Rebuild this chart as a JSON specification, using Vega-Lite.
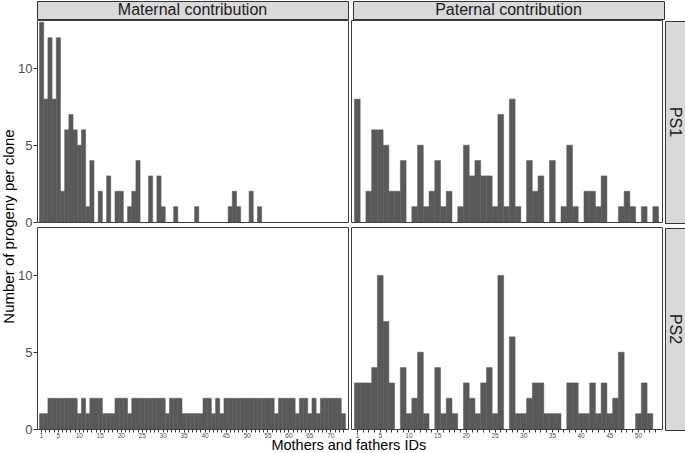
{
  "$schema": "https://vega.github.io/schema/vega-lite/v6.json",
  "padding": {"left": 2, "top": 0, "right": 0, "bottom": 0},
  "config": {
    "font": "Liberation Sans",
    "view": {"stroke": null},
    "bar": {"color": "#595959"}
  },
  "datasets": {
    "bars": [
      {"parent":"Maternal","site":"PS1","id":1,"n":13},{"parent":"Maternal","site":"PS1","id":2,"n":8},{"parent":"Maternal","site":"PS1","id":3,"n":12},{"parent":"Maternal","site":"PS1","id":4,"n":8},{"parent":"Maternal","site":"PS1","id":5,"n":12},{"parent":"Maternal","site":"PS1","id":6,"n":2},{"parent":"Maternal","site":"PS1","id":7,"n":6},{"parent":"Maternal","site":"PS1","id":8,"n":7},{"parent":"Maternal","site":"PS1","id":9,"n":6},{"parent":"Maternal","site":"PS1","id":10,"n":5},{"parent":"Maternal","site":"PS1","id":11,"n":6},{"parent":"Maternal","site":"PS1","id":12,"n":1},{"parent":"Maternal","site":"PS1","id":13,"n":4},{"parent":"Maternal","site":"PS1","id":15,"n":2},{"parent":"Maternal","site":"PS1","id":17,"n":3},{"parent":"Maternal","site":"PS1","id":19,"n":2},{"parent":"Maternal","site":"PS1","id":20,"n":2},{"parent":"Maternal","site":"PS1","id":22,"n":1},{"parent":"Maternal","site":"PS1","id":23,"n":2},{"parent":"Maternal","site":"PS1","id":24,"n":4},{"parent":"Maternal","site":"PS1","id":27,"n":3},{"parent":"Maternal","site":"PS1","id":29,"n":3},{"parent":"Maternal","site":"PS1","id":30,"n":1},{"parent":"Maternal","site":"PS1","id":33,"n":1},{"parent":"Maternal","site":"PS1","id":38,"n":1},{"parent":"Maternal","site":"PS1","id":46,"n":1},{"parent":"Maternal","site":"PS1","id":47,"n":2},{"parent":"Maternal","site":"PS1","id":48,"n":1},{"parent":"Maternal","site":"PS1","id":51,"n":2},{"parent":"Maternal","site":"PS1","id":53,"n":1},
      {"parent":"Maternal","site":"PS2","id":1,"n":1},{"parent":"Maternal","site":"PS2","id":2,"n":1},{"parent":"Maternal","site":"PS2","id":3,"n":2},{"parent":"Maternal","site":"PS2","id":4,"n":2},{"parent":"Maternal","site":"PS2","id":5,"n":2},{"parent":"Maternal","site":"PS2","id":6,"n":2},{"parent":"Maternal","site":"PS2","id":7,"n":2},{"parent":"Maternal","site":"PS2","id":8,"n":2},{"parent":"Maternal","site":"PS2","id":9,"n":2},{"parent":"Maternal","site":"PS2","id":10,"n":1},{"parent":"Maternal","site":"PS2","id":11,"n":2},{"parent":"Maternal","site":"PS2","id":12,"n":1},{"parent":"Maternal","site":"PS2","id":13,"n":2},{"parent":"Maternal","site":"PS2","id":14,"n":2},{"parent":"Maternal","site":"PS2","id":15,"n":2},{"parent":"Maternal","site":"PS2","id":16,"n":1},{"parent":"Maternal","site":"PS2","id":17,"n":1},{"parent":"Maternal","site":"PS2","id":18,"n":1},{"parent":"Maternal","site":"PS2","id":19,"n":2},{"parent":"Maternal","site":"PS2","id":20,"n":2},{"parent":"Maternal","site":"PS2","id":21,"n":2},{"parent":"Maternal","site":"PS2","id":22,"n":1},{"parent":"Maternal","site":"PS2","id":23,"n":2},{"parent":"Maternal","site":"PS2","id":24,"n":2},{"parent":"Maternal","site":"PS2","id":25,"n":2},{"parent":"Maternal","site":"PS2","id":26,"n":2},{"parent":"Maternal","site":"PS2","id":27,"n":2},{"parent":"Maternal","site":"PS2","id":28,"n":2},{"parent":"Maternal","site":"PS2","id":29,"n":2},{"parent":"Maternal","site":"PS2","id":30,"n":2},{"parent":"Maternal","site":"PS2","id":31,"n":1},{"parent":"Maternal","site":"PS2","id":32,"n":2},{"parent":"Maternal","site":"PS2","id":33,"n":2},{"parent":"Maternal","site":"PS2","id":34,"n":2},{"parent":"Maternal","site":"PS2","id":35,"n":1},{"parent":"Maternal","site":"PS2","id":36,"n":1},{"parent":"Maternal","site":"PS2","id":37,"n":1},{"parent":"Maternal","site":"PS2","id":38,"n":1},{"parent":"Maternal","site":"PS2","id":39,"n":1},{"parent":"Maternal","site":"PS2","id":40,"n":2},{"parent":"Maternal","site":"PS2","id":41,"n":2},{"parent":"Maternal","site":"PS2","id":42,"n":1},{"parent":"Maternal","site":"PS2","id":43,"n":2},{"parent":"Maternal","site":"PS2","id":44,"n":1},{"parent":"Maternal","site":"PS2","id":45,"n":2},{"parent":"Maternal","site":"PS2","id":46,"n":2},{"parent":"Maternal","site":"PS2","id":47,"n":2},{"parent":"Maternal","site":"PS2","id":48,"n":2},{"parent":"Maternal","site":"PS2","id":49,"n":2},{"parent":"Maternal","site":"PS2","id":50,"n":2},{"parent":"Maternal","site":"PS2","id":51,"n":2},{"parent":"Maternal","site":"PS2","id":52,"n":2},{"parent":"Maternal","site":"PS2","id":53,"n":2},{"parent":"Maternal","site":"PS2","id":54,"n":2},{"parent":"Maternal","site":"PS2","id":55,"n":2},{"parent":"Maternal","site":"PS2","id":56,"n":2},{"parent":"Maternal","site":"PS2","id":57,"n":1},{"parent":"Maternal","site":"PS2","id":58,"n":2},{"parent":"Maternal","site":"PS2","id":59,"n":2},{"parent":"Maternal","site":"PS2","id":60,"n":2},{"parent":"Maternal","site":"PS2","id":61,"n":2},{"parent":"Maternal","site":"PS2","id":62,"n":1},{"parent":"Maternal","site":"PS2","id":63,"n":2},{"parent":"Maternal","site":"PS2","id":64,"n":2},{"parent":"Maternal","site":"PS2","id":65,"n":1},{"parent":"Maternal","site":"PS2","id":66,"n":2},{"parent":"Maternal","site":"PS2","id":67,"n":1},{"parent":"Maternal","site":"PS2","id":68,"n":2},{"parent":"Maternal","site":"PS2","id":69,"n":2},{"parent":"Maternal","site":"PS2","id":70,"n":2},{"parent":"Maternal","site":"PS2","id":71,"n":2},{"parent":"Maternal","site":"PS2","id":72,"n":2},{"parent":"Maternal","site":"PS2","id":73,"n":1},
      {"parent":"Paternal","site":"PS1","id":1,"n":8},{"parent":"Paternal","site":"PS1","id":3,"n":2},{"parent":"Paternal","site":"PS1","id":4,"n":6},{"parent":"Paternal","site":"PS1","id":5,"n":6},{"parent":"Paternal","site":"PS1","id":6,"n":5},{"parent":"Paternal","site":"PS1","id":7,"n":2},{"parent":"Paternal","site":"PS1","id":8,"n":2},{"parent":"Paternal","site":"PS1","id":9,"n":4},{"parent":"Paternal","site":"PS1","id":11,"n":1},{"parent":"Paternal","site":"PS1","id":12,"n":5},{"parent":"Paternal","site":"PS1","id":13,"n":1},{"parent":"Paternal","site":"PS1","id":14,"n":2},{"parent":"Paternal","site":"PS1","id":15,"n":4},{"parent":"Paternal","site":"PS1","id":16,"n":1},{"parent":"Paternal","site":"PS1","id":17,"n":2},{"parent":"Paternal","site":"PS1","id":19,"n":1},{"parent":"Paternal","site":"PS1","id":20,"n":5},{"parent":"Paternal","site":"PS1","id":21,"n":3},{"parent":"Paternal","site":"PS1","id":22,"n":4},{"parent":"Paternal","site":"PS1","id":23,"n":3},{"parent":"Paternal","site":"PS1","id":24,"n":3},{"parent":"Paternal","site":"PS1","id":25,"n":1},{"parent":"Paternal","site":"PS1","id":26,"n":7},{"parent":"Paternal","site":"PS1","id":27,"n":1},{"parent":"Paternal","site":"PS1","id":28,"n":8},{"parent":"Paternal","site":"PS1","id":29,"n":1},{"parent":"Paternal","site":"PS1","id":31,"n":4},{"parent":"Paternal","site":"PS1","id":32,"n":2},{"parent":"Paternal","site":"PS1","id":33,"n":3},{"parent":"Paternal","site":"PS1","id":35,"n":4},{"parent":"Paternal","site":"PS1","id":37,"n":1},{"parent":"Paternal","site":"PS1","id":38,"n":5},{"parent":"Paternal","site":"PS1","id":39,"n":1},{"parent":"Paternal","site":"PS1","id":41,"n":2},{"parent":"Paternal","site":"PS1","id":42,"n":2},{"parent":"Paternal","site":"PS1","id":43,"n":1},{"parent":"Paternal","site":"PS1","id":44,"n":3},{"parent":"Paternal","site":"PS1","id":47,"n":1},{"parent":"Paternal","site":"PS1","id":48,"n":2},{"parent":"Paternal","site":"PS1","id":49,"n":1},{"parent":"Paternal","site":"PS1","id":51,"n":1},{"parent":"Paternal","site":"PS1","id":53,"n":1},
      {"parent":"Paternal","site":"PS2","id":1,"n":3},{"parent":"Paternal","site":"PS2","id":2,"n":3},{"parent":"Paternal","site":"PS2","id":3,"n":3},{"parent":"Paternal","site":"PS2","id":4,"n":4},{"parent":"Paternal","site":"PS2","id":5,"n":10},{"parent":"Paternal","site":"PS2","id":6,"n":7},{"parent":"Paternal","site":"PS2","id":7,"n":3},{"parent":"Paternal","site":"PS2","id":9,"n":4},{"parent":"Paternal","site":"PS2","id":10,"n":1},{"parent":"Paternal","site":"PS2","id":11,"n":2},{"parent":"Paternal","site":"PS2","id":12,"n":5},{"parent":"Paternal","site":"PS2","id":13,"n":1},{"parent":"Paternal","site":"PS2","id":15,"n":4},{"parent":"Paternal","site":"PS2","id":16,"n":1},{"parent":"Paternal","site":"PS2","id":17,"n":2},{"parent":"Paternal","site":"PS2","id":18,"n":1},{"parent":"Paternal","site":"PS2","id":20,"n":3},{"parent":"Paternal","site":"PS2","id":21,"n":2},{"parent":"Paternal","site":"PS2","id":22,"n":1},{"parent":"Paternal","site":"PS2","id":23,"n":3},{"parent":"Paternal","site":"PS2","id":24,"n":4},{"parent":"Paternal","site":"PS2","id":25,"n":1},{"parent":"Paternal","site":"PS2","id":26,"n":10},{"parent":"Paternal","site":"PS2","id":28,"n":6},{"parent":"Paternal","site":"PS2","id":29,"n":1},{"parent":"Paternal","site":"PS2","id":30,"n":1},{"parent":"Paternal","site":"PS2","id":31,"n":2},{"parent":"Paternal","site":"PS2","id":32,"n":3},{"parent":"Paternal","site":"PS2","id":33,"n":3},{"parent":"Paternal","site":"PS2","id":34,"n":1},{"parent":"Paternal","site":"PS2","id":35,"n":1},{"parent":"Paternal","site":"PS2","id":36,"n":1},{"parent":"Paternal","site":"PS2","id":38,"n":3},{"parent":"Paternal","site":"PS2","id":39,"n":3},{"parent":"Paternal","site":"PS2","id":40,"n":1},{"parent":"Paternal","site":"PS2","id":41,"n":1},{"parent":"Paternal","site":"PS2","id":42,"n":3},{"parent":"Paternal","site":"PS2","id":43,"n":1},{"parent":"Paternal","site":"PS2","id":44,"n":3},{"parent":"Paternal","site":"PS2","id":45,"n":1},{"parent":"Paternal","site":"PS2","id":46,"n":2},{"parent":"Paternal","site":"PS2","id":47,"n":5},{"parent":"Paternal","site":"PS2","id":50,"n":1},{"parent":"Paternal","site":"PS2","id":51,"n":3},{"parent":"Paternal","site":"PS2","id":52,"n":1}
    ]
  },
  "title": {"text": "Number of progeny per clone", "orient": "left", "anchor": "middle", "fontSize": 15, "fontWeight": "normal", "color": "#000000", "offset": 0},
  "spacing": -1,
  "hconcat": [
    {
      "spacing": -1,
      "vconcat": [
        {
          "spacing": 3,
          "hconcat": [
            {"width": 311, "height": 18, "view": {"fill": "#d9d9d9", "stroke": "#333333"}, "data": {"values": [{"label": "Maternal contribution"}]}, "mark": {"type": "text", "fontSize": 16, "color": "#1a1a1a"}, "encoding": {"text": {"field": "label"}}},
            {"width": 311, "height": 18, "view": {"fill": "#d9d9d9", "stroke": "#333333"}, "data": {"values": [{"label": "Paternal contribution"}]}, "mark": {"type": "text", "fontSize": 16, "color": "#1a1a1a"}, "encoding": {"text": {"field": "label"}}}
          ]
        },
        {
          "title": {"text": "Mothers and fathers IDs", "orient": "bottom", "anchor": "middle", "fontSize": 14.5, "fontWeight": "normal", "color": "#000000", "offset": 0, "dx": 9},
          "columns": 2,
          "bounds": "flush",
          "spacing": {"row": 5, "column": 3},
          "concat": [
            {
              "width": 311, "height": 202,
              "view": {"fill": "#ffffff", "stroke": "#3d3d3d"},
              "data": {"name": "bars"},
              "transform": [{"filter": "datum.parent == 'Maternal' && datum.site == 'PS1'"}],
              "mark": {"type": "bar", "color": "#595959", "stroke": "#595959", "strokeWidth": 0.5},
              "encoding": {
                "x": {"field": "id", "type": "ordinal", "scale": {"domain": [1,2,3,4,5,6,7,8,9,10,11,12,13,14,15,16,17,18,19,20,21,22,23,24,25,26,27,28,29,30,31,32,33,34,35,36,37,38,39,40,41,42,43,44,45,46,47,48,49,50,51,52,53,54,55,56,57,58,59,60,61,62,63,64,65,66,67,68,69,70,71,72,73], "paddingInner": 0, "paddingOuter": 0.6}, "axis": null},
                "y": {"field": "n", "type": "quantitative", "scale": {"domain": [0, 13.15], "nice": false}, "axis": {"values": [0, 5, 10], "title": null, "grid": false, "domain": false, "labelFontSize": 13, "labelColor": "#4d4d4d", "tickColor": "#333333", "tickSize": 4, "labelPadding": 1}}
              }
            },
            {
              "width": 311, "height": 202,
              "view": {"fill": "#ffffff", "stroke": "#3d3d3d"},
              "data": {"name": "bars"},
              "transform": [{"filter": "datum.parent == 'Paternal' && datum.site == 'PS1'"}],
              "mark": {"type": "bar", "color": "#595959", "stroke": "#595959", "strokeWidth": 0.5},
              "encoding": {
                "x": {"field": "id", "type": "ordinal", "scale": {"domain": [1,2,3,4,5,6,7,8,9,10,11,12,13,14,15,16,17,18,19,20,21,22,23,24,25,26,27,28,29,30,31,32,33,34,35,36,37,38,39,40,41,42,43,44,45,46,47,48,49,50,51,52,53], "paddingInner": 0, "paddingOuter": 0.6}, "axis": null},
                "y": {"field": "n", "type": "quantitative", "scale": {"domain": [0, 13.15], "nice": false}, "axis": null}
              }
            },
            {
              "width": 311, "height": 202,
              "view": {"fill": "#ffffff", "stroke": "#3d3d3d"},
              "data": {"name": "bars"},
              "transform": [{"filter": "datum.parent == 'Maternal' && datum.site == 'PS2'"}],
              "mark": {"type": "bar", "color": "#595959", "stroke": "#595959", "strokeWidth": 0.5},
              "encoding": {
                "x": {"field": "id", "type": "ordinal", "scale": {"domain": [1,2,3,4,5,6,7,8,9,10,11,12,13,14,15,16,17,18,19,20,21,22,23,24,25,26,27,28,29,30,31,32,33,34,35,36,37,38,39,40,41,42,43,44,45,46,47,48,49,50,51,52,53,54,55,56,57,58,59,60,61,62,63,64,65,66,67,68,69,70,71,72,73], "paddingInner": 0, "paddingOuter": 0.6}, "axis": {"title": null, "labelAngle": 0, "labelFontSize": 6.5, "labelColor": "#4d4d4d", "tickColor": "#333333", "tickSize": 3, "labelPadding": 0, "domain": false, "labelOverlap": false, "labelExpr": "datum.value == 1 || datum.value % 5 == 0 ? datum.label : ''"}},
                "y": {"field": "n", "type": "quantitative", "scale": {"domain": [0, 13.15], "nice": false}, "axis": {"values": [0, 5, 10], "title": null, "grid": false, "domain": false, "labelFontSize": 13, "labelColor": "#4d4d4d", "tickColor": "#333333", "tickSize": 4, "labelPadding": 1}}
              }
            },
            {
              "width": 311, "height": 202,
              "view": {"fill": "#ffffff", "stroke": "#3d3d3d"},
              "data": {"name": "bars"},
              "transform": [{"filter": "datum.parent == 'Paternal' && datum.site == 'PS2'"}],
              "mark": {"type": "bar", "color": "#595959", "stroke": "#595959", "strokeWidth": 0.5},
              "encoding": {
                "x": {"field": "id", "type": "ordinal", "scale": {"domain": [1,2,3,4,5,6,7,8,9,10,11,12,13,14,15,16,17,18,19,20,21,22,23,24,25,26,27,28,29,30,31,32,33,34,35,36,37,38,39,40,41,42,43,44,45,46,47,48,49,50,51,52,53], "paddingInner": 0, "paddingOuter": 0.6}, "axis": {"title": null, "labelAngle": 0, "labelFontSize": 6.5, "labelColor": "#4d4d4d", "tickColor": "#333333", "tickSize": 3, "labelPadding": 0, "domain": false, "labelOverlap": false, "labelExpr": "datum.value == 1 || datum.value % 5 == 0 ? datum.label : ''"}},
                "y": {"field": "n", "type": "quantitative", "scale": {"domain": [0, 13.15], "nice": false}, "axis": null}
              }
            }
          ]
        }
      ]
    },
    {
      "spacing": 5,
      "bounds": "flush",
      "vconcat": [
        {"width": 20, "height": 15, "data": {"values": [{"label": ""}]}, "mark": {"type": "text"}, "encoding": {"text": {"field": "label"}}},
        {"width": 20, "height": 202, "view": {"fill": "#d9d9d9", "stroke": "#333333"}, "data": {"values": [{"label": "PS1"}]}, "mark": {"type": "text", "fontSize": 16, "angle": 90, "color": "#1a1a1a"}, "encoding": {"text": {"field": "label"}}},
        {"width": 20, "height": 202, "view": {"fill": "#d9d9d9", "stroke": "#333333"}, "data": {"values": [{"label": "PS2"}]}, "mark": {"type": "text", "fontSize": 16, "angle": 90, "color": "#1a1a1a"}, "encoding": {"text": {"field": "label"}}}
      ]
    }
  ]
}
